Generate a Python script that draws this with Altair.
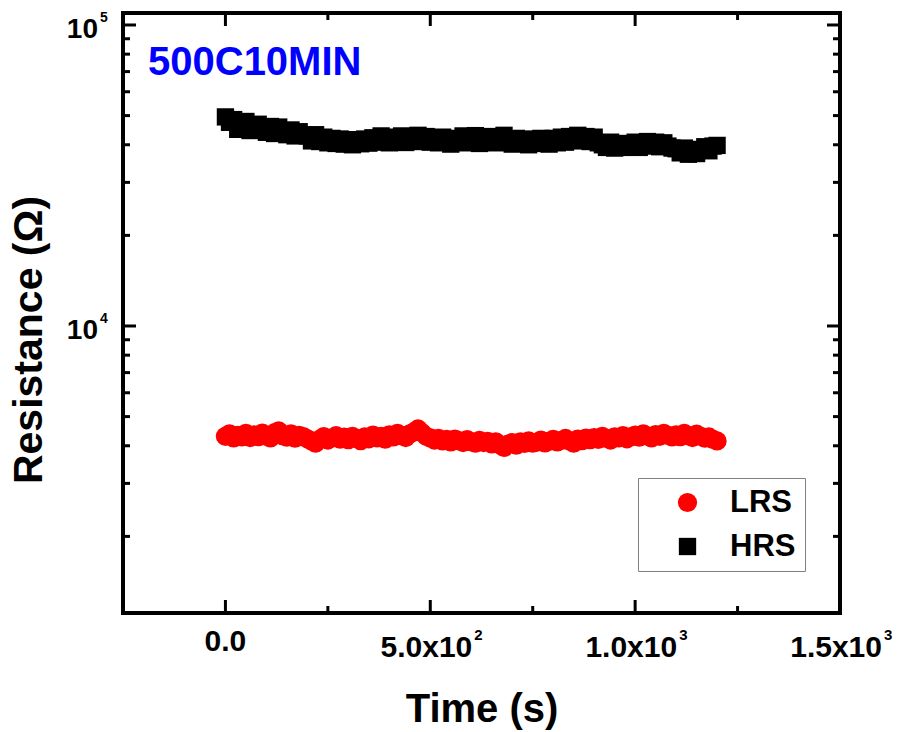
import altair as alt
import pandas as pd

# ---------------- data ----------------
time_s = list(range(0, 1201, 10))

hrs_ohm = [
    49500, 47500, 48500, 45000, 47000, 47800, 44600, 45500, 46800, 45000,
    44000, 46000, 43600, 45800, 44200, 43200, 44800, 42800, 44200, 43000,
    42800, 41200, 43200, 41000, 42400, 40600, 42000, 40400, 41800, 40200,
    41600, 40000, 41200, 40300, 41800, 40500, 42200, 40800, 42800, 41400,
    40600, 42400, 41000, 42800, 40700, 42200, 41200, 43000, 41000, 42600,
    40800, 42000, 40600, 42400, 41200, 40200, 42000, 41000, 42800, 40600,
    41800, 42900, 40400, 42200, 41000, 42600, 40600, 42000, 43000, 41200,
    40200, 42000, 40600, 41800, 40000, 41600, 40400, 42000, 40800, 40200,
    42000, 40600, 42400, 40800, 42600, 41200, 43000, 41400, 42600, 41000,
    42400, 40600, 40000, 39200, 40800, 39000, 40400, 39200, 40200, 39400,
    40800, 39200, 40400, 41000, 39600, 40800, 39400, 40600, 39600, 39000,
    38800, 37600, 39000, 37200, 38400, 37400, 38600, 39400, 38200, 39600,
    39800,
]

lrs_ohm = [
    4300, 4380, 4250, 4330, 4280, 4400, 4260, 4350, 4290, 4410,
    4300, 4250, 4420, 4480, 4320, 4270, 4380, 4240, 4330, 4290,
    4220, 4150, 4080, 4200, 4290, 4180, 4250, 4320, 4210, 4270,
    4190, 4300, 4230, 4160, 4280, 4220, 4340, 4250, 4300, 4210,
    4350, 4280, 4400, 4320, 4260, 4380, 4450, 4550, 4420, 4300,
    4250, 4180, 4230, 4150, 4200, 4120, 4210, 4160, 4100, 4190,
    4130, 4080, 4170, 4100, 4140, 4060, 4120, 4030, 3950, 4050,
    4100, 4020, 4120, 4070, 4150, 4080, 4110, 4180, 4090, 4140,
    4200, 4120, 4170, 4230, 4150, 4080, 4210, 4160, 4240, 4190,
    4260, 4200, 4300, 4230, 4180, 4280, 4250, 4320, 4220, 4290,
    4340, 4270, 4380, 4310, 4250, 4360, 4300, 4400, 4330, 4280,
    4350, 4290, 4400, 4320, 4260, 4370, 4300, 4240, 4280, 4200,
    4150,
]

series_names = ["LRS", "HRS"]
series_colors = ["#ff0000", "#000000"]
series_shapes = ["circle", "square"]
series_sizes = [370, 300]

x_domain = [-250, 1500]
y_domain = [1113, 109600]

x_major = [0, 500, 1000, 1500]
x_label_base = ["0.0", "5.0x10", "1.0x10", "1.5x10"]
x_label_exp = ["", "2", "3", "3"]
x_minor = [250, 750, 1250]

y_major = [10000, 100000]
y_label_base = ["10", "10"]
y_label_exp = ["4", "5"]
y_minor = [2000, 3000, 4000, 5000, 6000, 7000, 8000, 9000,
           20000, 30000, 40000, 50000, 60000, 70000, 80000, 90000]

x_title = ["Time (s)"]
y_title = ["Resistance (Ω)"]
annotation = ["500C10MIN"]

# ---------------- layout ----------------
W, H = 717, 600
FONT = "Arial, Liberation Sans, sans-serif"
MAJ, MIN = 13, 7

xs = alt.Scale(domain=x_domain, nice=False, zero=False)
ys = alt.Scale(type="log", domain=y_domain, nice=False)

df = pd.concat([
    pd.DataFrame({"t": time_s, "R": lrs_ohm, "state": "LRS"}),
    pd.DataFrame({"t": time_s, "R": hrs_ohm, "state": "HRS"}),
])

leg = alt.Legend(
    title=None, orient="none", legendX=515, legendY=465,
    padding=9, symbolOffset=25, labelOffset=27,
    labelFontSize=31, labelFont=FONT, labelFontWeight="bold", labelColor="black",
    strokeColor="#808080", fillColor="white", rowPadding=12,
    symbolOpacity=1, symbolStrokeWidth=0,
)

points = alt.Chart(df).mark_point(filled=True, opacity=1, strokeWidth=0).encode(
    x=alt.X("t:Q", scale=xs, axis=None),
    y=alt.Y("R:Q", scale=ys, axis=None),
    color=alt.Color("state:N", scale=alt.Scale(domain=series_names, range=series_colors), legend=leg),
    shape=alt.Shape("state:N", scale=alt.Scale(domain=series_names, range=series_shapes), legend=leg),
    size=alt.Size("state:N", scale=alt.Scale(domain=series_names, range=series_sizes), legend=leg),
)


def xticks(vals, length):
    d = pd.DataFrame({"v": vals})
    base = alt.Chart(d).mark_rule(color="black", strokeWidth=3)
    bottom = base.encode(x=alt.X("v:Q", scale=xs, axis=None),
                         y=alt.value(H), y2=alt.value(H - length))
    top = base.encode(x=alt.X("v:Q", scale=xs, axis=None),
                      y=alt.value(0), y2=alt.value(length))
    return [bottom, top]


def yticks(vals, length):
    d = pd.DataFrame({"v": vals})
    base = alt.Chart(d).mark_rule(color="black", strokeWidth=3)
    left = base.encode(y=alt.Y("v:Q", scale=ys, axis=None),
                       x=alt.value(0), x2=alt.value(length))
    right = base.encode(y=alt.Y("v:Q", scale=ys, axis=None),
                        x=alt.value(W), x2=alt.value(W - length))
    return [left, right]


ticks = xticks(x_major, MAJ) + xticks(x_minor, MIN) + yticks(y_major, MAJ) + yticks(y_minor, MIN)

# tick labels, drawn through the scales
xl = alt.Chart(pd.DataFrame({"v": x_major, "base": x_label_base, "exp": x_label_exp}))
txt = dict(font=FONT, fontWeight="bold", color="black", baseline="alphabetic")

xlab_plain = xl.transform_filter("datum.exp == ''").mark_text(
    align="center", fontSize=30, **txt,
).encode(x=alt.X("v:Q", scale=xs, axis=None), y=alt.value(H + 38), text="base:N")

xlab_base = xl.transform_filter("datum.exp != ''").mark_text(
    align="right", fontSize=30, dx=42, **txt,
).encode(x=alt.X("v:Q", scale=xs, axis=None), y=alt.value(H + 44), text="base:N")

xlab_exp = xl.transform_filter("datum.exp != ''").mark_text(
    align="left", fontSize=15, dx=44, **txt,
).encode(x=alt.X("v:Q", scale=xs, axis=None), y=alt.value(H + 27), text="exp:N")

yl = alt.Chart(pd.DataFrame({"v": y_major, "base": y_label_base, "exp": y_label_exp}))
ylab_base = yl.mark_text(align="right", fontSize=28, dy=13, **txt).encode(
    y=alt.Y("v:Q", scale=ys, axis=None), x=alt.value(-25), text="base:N")
ylab_exp = yl.mark_text(align="left", fontSize=14, dy=-3, **txt).encode(
    y=alt.Y("v:Q", scale=ys, axis=None), x=alt.value(-23), text="exp:N")

xtitle = alt.Chart(pd.DataFrame({"lab": x_title})).mark_text(
    align="center", fontSize=40, **txt,
).encode(x=alt.value(359), y=alt.value(709), text="lab:N")

ytitle = alt.Chart(pd.DataFrame({"lab": y_title})).mark_text(
    align="center", fontSize=41, angle=270, **txt,
).encode(x=alt.value(-81), y=alt.value(327), text="lab:N")

note = alt.Chart(pd.DataFrame({"label": annotation})).mark_text(
    align="left", baseline="alphabetic", fontSize=40, font=FONT,
    fontWeight="bold", color="#0000ff",
).encode(x=alt.value(25), y=alt.value(62), text="label:N")

chart = alt.layer(points, *ticks, xlab_plain, xlab_base, xlab_exp,
                  ylab_base, ylab_exp, xtitle, ytitle, note).properties(
    width=W, height=H,
    padding={"left": 123, "top": 13, "right": 57, "bottom": 119},
    autosize=alt.AutoSizeParams(type="none"),
    background="white",
).configure_view(stroke="black", strokeWidth=4)

chart.save("out.html", embed_options={"renderer": "svg", "actions": False})
